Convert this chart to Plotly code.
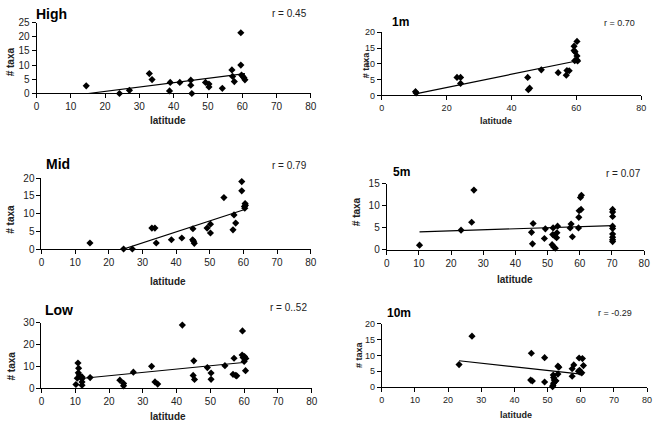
import numpy as np
import plotly.graph_objects as go

W, H = 661, 429

# ---------------- data ----------------
high_lat = [14.5, 24.2, 27.1, 32.9, 33.7, 38.8, 39.0, 41.8, 45.0, 45.0, 45.3, 49.3, 50.3, 50.3,
            54.2, 57.0, 57.2, 57.7, 59.6, 59.6, 59.8, 60.2, 60.5, 60.8]
high_taxa = [2.7, 0.0, 1.1, 7.0, 4.9, 0.9, 3.9, 3.9, 4.7, 2.9, 0.0, 3.9, 3.3, 2.3,
             1.8, 8.3, 6.0, 4.2, 21.4, 10.0, 6.5, 6.0, 5.5, 4.8]

m1_lat = [10.4, 10.6, 23.2, 24.3, 24.3, 45.0, 45.2, 45.6, 49.2, 54.4, 56.9, 57.1, 57.8,
          59.3, 59.3, 59.6, 59.5, 60.2, 60.2, 60.4, 60.2]
m1_taxa = [1.2, 0.8, 5.7, 5.7, 3.8, 5.7, 1.8, 2.3, 8.1, 7.2, 6.4, 7.9, 7.8,
           15.6, 14.2, 13.8, 11.0, 17.1, 12.5, 10.9, 11.2]

mid_lat = [14.4, 24.4, 27.0, 32.8, 33.7, 34.1, 38.6, 41.7, 45.0, 44.9, 45.2, 45.4, 49.2,
           50.2, 50.2, 54.2, 56.9, 57.2, 57.7, 59.5, 59.5, 60.3, 60.5, 60.4, 60.6]
mid_taxa = [1.7, 0.0, 0.0, 5.9, 5.9, 1.7, 2.6, 3.1, 5.7, 2.6, 2.2, 1.6, 5.9,
            7.0, 4.5, 14.5, 5.4, 9.6, 7.3, 19.0, 16.4, 12.0, 12.8, 11.5, 12.3]

m5_lat = [10.2, 23.1, 26.4, 27.1, 45.0, 45.3, 45.5, 49.0, 49.3, 51.7, 51.6, 52.2, 51.4,
          51.9, 52.4, 53.1, 52.9, 52.8, 57.3, 57.0, 57.7, 59.6, 59.7, 59.8, 60.4, 60.2,
          60.5, 70.2, 70.2, 70.2, 70.2, 70.2, 70.2, 70.2, 70.2, 70.2]
m5_taxa = [1.1, 4.5, 6.3, 13.6, 4.0, 1.4, 6.0, 2.6, 4.8, 5.0, 3.5, 3.2, 1.2,
           0.7, 0.4, 5.4, 3.9, 2.8, 5.9, 5.0, 3.0, 5.0, 7.4, 8.9, 9.2, 11.9,
           12.4, 9.2, 8.6, 7.6, 5.4, 4.9, 3.6, 2.9, 2.3, 1.9]

low_lat = [10.2, 10.8, 11.0, 10.9, 11.2, 10.6, 12.0, 12.0, 12.0, 12.0, 14.4, 23.2, 24.3,
           24.3, 27.2, 32.6, 33.6, 34.4, 41.7, 45.1, 44.9, 45.3, 49.1, 50.2, 50.2, 54.3,
           57.0, 56.7, 57.5, 57.8, 59.4, 59.5, 59.7, 60.1, 60.5, 60.0, 60.4]
low_taxa = [1.6, 11.5, 9.1, 7.0, 6.0, 4.5, 5.1, 4.3, 2.8, 1.3, 4.8, 3.6, 2.1,
            1.0, 7.3, 10.0, 2.8, 1.8, 29.0, 12.5, 5.8, 3.9, 9.4, 6.9, 4.0, 10.3,
            13.7, 6.3, 5.8, 5.6, 15.2, 26.3, 14.0, 14.5, 13.6, 12.2, 8.0]

m10_lat = [23.3, 27.2, 45.1, 44.9, 45.4, 49.1, 49.1, 51.7, 51.8, 52.0, 52.3, 51.8, 51.6,
           51.5, 52.5, 53.1, 53.4, 53.1, 57.4, 57.9, 57.4, 59.5, 60.5, 59.6, 59.8, 60.8,
           60.3, 59.3]
m10_taxa = [7.1, 16.1, 10.7, 2.2, 1.9, 9.3, 1.6, 3.8, 3.0, 2.2, 1.8, 1.2, 0.5,
            0.1, 2.0, 6.6, 6.3, 4.1, 3.4, 7.0, 5.8, 9.2, 9.0, 5.3, 4.7, 6.8,
            4.5, 5.0]

panel_names = ["High", "1m", "Mid", "5m", "Low", "10m"]
r_labels = ["r = 0.45", "r = 0.70", "r = 0.79", "r = 0.07", "r = 0..52", "r = -0.29"]
x_tick_step = [10, 20, 10, 10, 10, 10]
y_max = [25, 20, 20, 15, 30, 20]
y_tick_step = [5, 5, 5, 5, 10, 5]
x_max = 80

series = [(high_lat, high_taxa), (m1_lat, m1_taxa), (mid_lat, mid_taxa),
          (m5_lat, m5_taxa), (low_lat, low_taxa), (m10_lat, m10_taxa)]

# ---------------- layout (pixel boxes) ----------------
# plot box: left, right, bottom(y=0), top(y=max)
boxes = [(34, 312, 90, 17), (384, 647, 92, 27), (39, 312, 250, 177),
         (389, 650, 251, 183), (39, 313, 393, 326), (384, 653, 392, 327)]
title_pos = [(31, 8, 14), (392, 16, 12), (42, 163, 14), (393, 171, 12), (41, 313, 14), (387, 316, 12)]
r_pos = [(310, 8, 10), (643, 17, 9), (310, 164, 10), (649, 172, 10), (310, 310, 10), (640, 316, 9)]
ylab_pos = [(8, 57, 10), (368, 60, 9), (8, 219, 10), (358, 212, 10), (9, 370, 10), (361, 359, 9)]
xlab_pos = [(167, 118, 10), (500, 118, 9), (167, 283, 10), (519, 281, 10), (167, 422, 10), (520, 421, 9)]
tick_font = [10, 9, 10, 10, 10, 9]

FONT = "Liberation Sans, Arial, sans-serif"
fig = go.Figure()
annotations = []

def px(x):
    return x / W

def py(y):
    return 1 - y / H

for i, (lat, taxa) in enumerate(series):
    ax = "" if i == 0 else str(i + 1)
    xa, ya = "x" + ax, "y" + ax
    lat_a = np.array(lat)
    taxa_a = np.array(taxa)
    fig.add_trace(go.Scatter(x=lat, y=taxa, mode="markers", xaxis=xa, yaxis=ya,
                             marker=dict(symbol="diamond", size=5.5, color="black"),
                             showlegend=False, cliponaxis=False))
    slope, icpt = np.polyfit(lat_a, taxa_a, 1)
    tx = np.array([lat_a.min(), lat_a.max()])
    fig.add_trace(go.Scatter(x=tx, y=slope * tx + icpt, mode="lines", xaxis=xa, yaxis=ya,
                             line=dict(color="black", width=1.2), showlegend=False))
    l, r, b, t = boxes[i]
    common = dict(showgrid=False, zeroline=False, showline=True, linecolor="black",
                  linewidth=1, ticks="outside", ticklen=4, tickcolor="black",
                  tickfont=dict(family=FONT, size=tick_font[i], color="#222"))
    fig.layout["xaxis" + ax] = dict(domain=[px(l), px(r)], range=[0, x_max],
                                    tickmode="linear", tick0=0, dtick=x_tick_step[i],
                                    anchor=ya, **common)
    fig.layout["yaxis" + ax] = dict(domain=[py(b), py(t)], range=[0, y_max[i]],
                                    tickmode="linear", tick0=0, dtick=y_tick_step[i],
                                    anchor=xa, **common)
    tx0, ty0, ts = title_pos[i]
    annotations.append(dict(text="<b>%s</b>" % panel_names[i], x=px(tx0), y=py(ty0),
                            xref="paper", yref="paper", xanchor="left", yanchor="middle",
                            showarrow=False, font=dict(family=FONT, size=ts, color="black")))
    rx, ry, rs = r_pos[i]
    annotations.append(dict(text=r_labels[i], x=px(rx), y=py(ry), xref="paper", yref="paper",
                            xanchor="right", yanchor="middle", showarrow=False,
                            font=dict(family=FONT, size=rs, color="#222")))
    lx, ly, ls = ylab_pos[i]
    annotations.append(dict(text="<b># taxa</b>", x=px(lx), y=py(ly), xref="paper", yref="paper",
                            xanchor="center", yanchor="middle", textangle=-90, showarrow=False,
                            font=dict(family=FONT, size=ls, color="#222")))
    bx, by, bs = xlab_pos[i]
    annotations.append(dict(text="<b>latitude</b>", x=px(bx), y=py(by), xref="paper", yref="paper",
                            xanchor="center", yanchor="middle", showarrow=False,
                            font=dict(family=FONT, size=bs, color="#222")))

fig.update_layout(width=W, height=H, margin=dict(l=0, r=0, t=0, b=0),
                  paper_bgcolor="white", plot_bgcolor="white", hovermode=False,
                  annotations=annotations, font=dict(family=FONT))
fig.write_html("out.html", config={"displayModeBar": False, "staticPlot": True},
               post_script="document.body.style.margin='0';document.body.style.overflow='hidden';")
